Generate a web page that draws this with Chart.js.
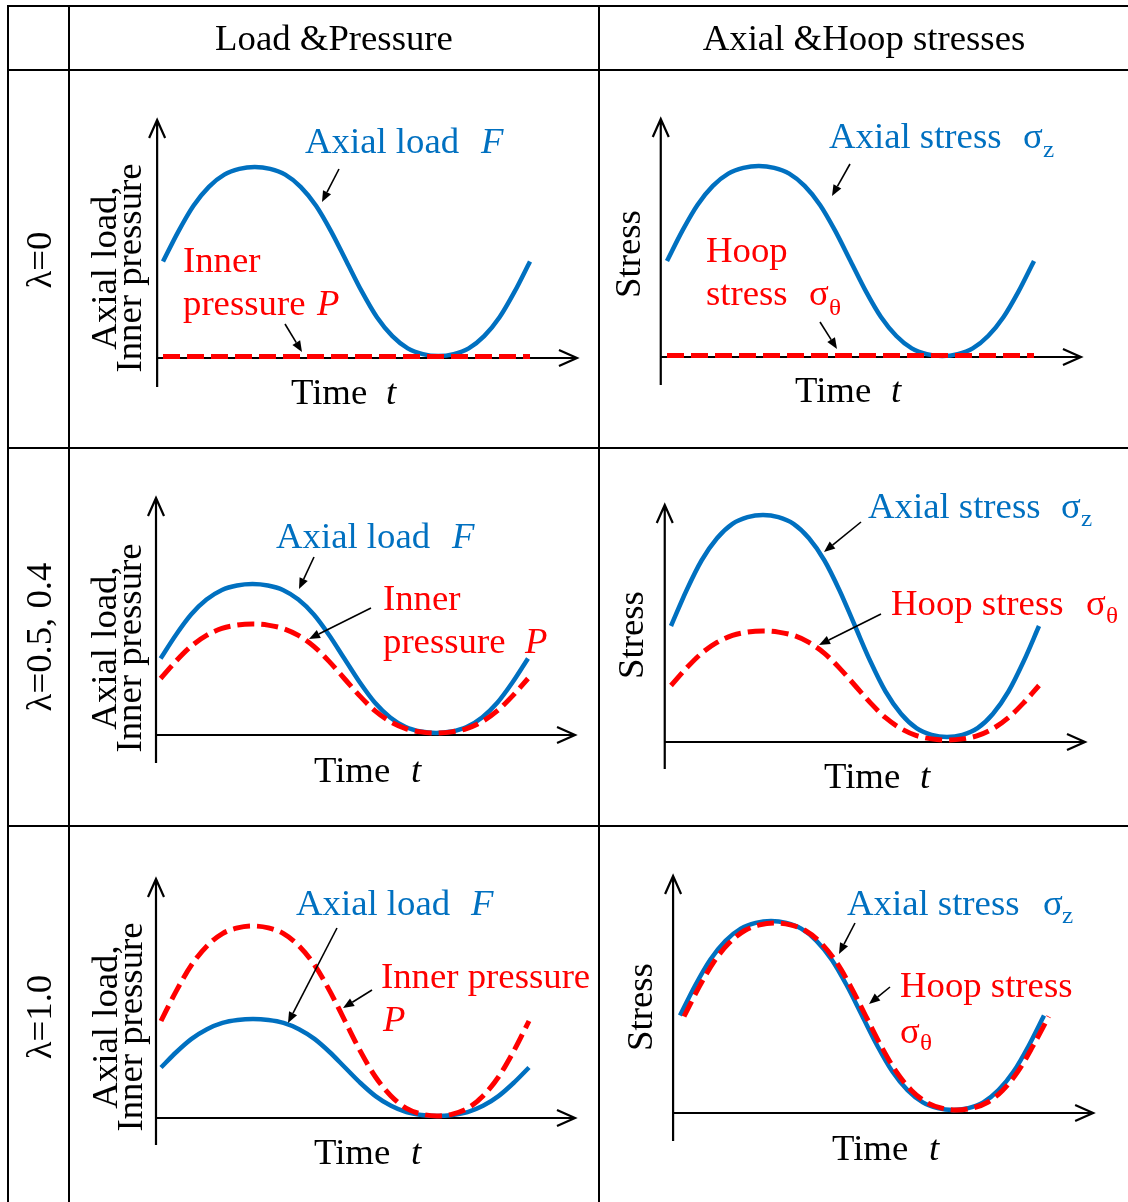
<!DOCTYPE html>
<html><head><meta charset="utf-8">
<script src="https://cdn.jsdelivr.net/npm/chart.js@4.4.1/dist/chart.umd.min.js"></script>
<style>html,body{margin:0;padding:0;background:#fff;overflow:hidden}canvas{display:block}</style>
</head><body>
<canvas id="c" width="1128" height="1202"></canvas>
<script>
// ---- data (one loading period; values = height above the time axis) ----
const time      = [0, 0.042, 0.083, 0.125, 0.167, 0.208, 0.25, 0.292, 0.333, 0.375, 0.417, 0.458, 0.5,
                   0.542, 0.583, 0.625, 0.667, 0.708, 0.75, 0.792, 0.833, 0.875, 0.917, 0.958, 1];
const hoopTime1 = [0.011, 0.053, 0.094, 0.136, 0.178, 0.219, 0.261, 0.303, 0.344, 0.386, 0.428, 0.469, 0.511,
                   0.553, 0.594, 0.636, 0.678, 0.719, 0.761, 0.803, 0.844, 0.886, 0.928, 0.969, 1.013];

// λ = 0
const load0         = [96.5, 126.7, 152.3, 171.2, 183.4, 189.1, 191, 189.1, 183.4, 171.2, 152.3, 126.7, 96.5,
                       66.3, 40.7, 21.8, 9.6, 3.9, 2, 3.9, 9.6, 21.8, 40.7, 66.3, 96.5];
const pressure0     = [1.5, 1.5, 1.5, 1.5, 1.5, 1.5, 1.5, 1.5, 1.5, 1.5, 1.5, 1.5, 1.5,
                       1.5, 1.5, 1.5, 1.5, 1.5, 1.5, 1.5, 1.5, 1.5, 1.5, 1.5, 1.5];
const axialStress0  = [96, 126.4, 152.1, 171.1, 183.4, 189.1, 191, 189.1, 183.4, 171.1, 152.1, 126.4, 96,
                       65.6, 40, 21, 8.6, 2.9, 1, 2.9, 8.6, 21, 40, 65.6, 96];
const hoopStress0   = [1.5, 1.5, 1.5, 1.5, 1.5, 1.5, 1.5, 1.5, 1.5, 1.5, 1.5, 1.5, 1.5,
                       1.5, 1.5, 1.5, 1.5, 1.5, 1.5, 1.5, 1.5, 1.5, 1.5, 1.5, 1.5];
// λ = 0.5, 0.4
const load05        = [76.5, 100.3, 120.5, 135.4, 145, 149.5, 151, 149.5, 145, 135.4, 120.5, 100.3, 76.5,
                       52.7, 32.5, 17.6, 8, 3.5, 2, 3.5, 8, 17.6, 32.5, 52.7, 76.5];
const pressure05    = [56.5, 73.9, 88.7, 99.6, 106.6, 109.9, 111, 109.9, 106.6, 99.6, 88.7, 73.9, 56.5,
                       39.1, 24.3, 13.4, 6.4, 3.1, 2, 3.1, 6.4, 13.4, 24.3, 39.1, 56.5];
const axialStress05 = [116, 151.5, 181.5, 203.7, 218.1, 224.8, 227, 224.8, 218.1, 203.7, 181.5, 151.5, 116,
                       80.5, 50.5, 28.3, 13.9, 7.2, 5, 7.2, 13.9, 28.3, 50.5, 80.5, 116];
const hoopStress05  = [56.5, 73.9, 88.7, 99.6, 106.6, 109.9, 111, 109.9, 106.6, 99.6, 88.7, 73.9, 56.5,
                       39.1, 24.3, 13.4, 6.4, 3.1, 2, 3.1, 6.4, 13.4, 24.3, 39.1, 56.5];
// λ = 1.0
const load1         = [50.5, 66, 79.1, 88.8, 95.1, 98, 99, 98, 95.1, 88.8, 79.1, 66, 50.5,
                       35, 21.9, 12.2, 5.9, 3, 2, 3, 5.9, 12.2, 21.9, 35, 50.5];
const pressure1     = [97, 127.4, 153.1, 172.1, 184.4, 190.1, 192, 190.1, 184.4, 172.1, 153.1, 127.4, 97,
                       66.6, 41, 22, 9.6, 3.9, 2, 3.9, 9.6, 22, 41, 66.6, 97];
const axialStress1  = [97.5, 127.7, 153.3, 172.2, 184.4, 190.1, 192, 190.1, 184.4, 172.2, 153.3, 127.7, 97.5,
                       67.3, 41.7, 22.8, 10.6, 4.9, 3, 4.9, 10.6, 22.8, 41.7, 67.3, 97.5];
const hoopStress1   = [96.5, 126.4, 151.7, 170.4, 182.5, 188.1, 190, 188.1, 182.5, 170.4, 151.7, 126.4, 96.5,
                       66.6, 41.3, 22.6, 10.5, 4.9, 3, 4.9, 10.5, 22.6, 41.3, 66.6, 96.5];

const columnHeaders = ['Load &Pressure', 'Axial &Hoop stresses'];
const rowHeaders = ['λ=0', 'λ=0.5, 0.4', 'λ=1.0'];

// ---- layout ----
const W = 1128, H = 1202;
const BLUE = '#0070C0', RED = '#FF0000';
const FONT = '"Liberation Serif", "Times New Roman", serif';
const FS = 35, SX = 1.05;

const panels = [
  {x0:163, x1:530, ay:358, tAxis:-0.016, tTip:1.128, top:238, bottom:-29},
  {x0:667, x1:1034, ay:357, tAxis:-0.017, tTip:1.128, top:238, bottom:-28},
  {x0:160.6, x1:528, ay:735, tAxis:-0.0125, tTip:1.128, top:237, bottom:-28},
  {x0:671, x1:1039, ay:742, tAxis:-0.017, tTip:1.125, top:237, bottom:-27},
  {x0:161, x1:529, ay:1118, tAxis:-0.0136, tTip:1.125, top:239, bottom:-27},
  {x0:680, x1:1044, ay:1113, tAxis:-0.019, tTip:1.135, top:237, bottom:-28}
];

const series = [
  {p:0, t:time, v:load0, c:BLUE}, {p:0, t:time, v:pressure0, c:RED, dash:true},
  {p:1, t:time, v:axialStress0, c:BLUE}, {p:1, t:time, v:hoopStress0, c:RED, dash:true},
  {p:2, t:time, v:load05, c:BLUE}, {p:2, t:time, v:pressure05, c:RED, dash:true},
  {p:3, t:time, v:axialStress05, c:BLUE}, {p:3, t:time, v:hoopStress05, c:RED, dash:true},
  {p:4, t:time, v:load1, c:BLUE}, {p:4, t:time, v:pressure1, c:RED, dash:true},
  {p:5, t:time, v:axialStress1, c:BLUE}, {p:5, t:hoopTime1, v:hoopStress1, c:RED, dash:true}
];

const scales = {};
panels.forEach((p, i) => {
  const w = p.x1 - p.x0;
  scales['x' + i] = {type:'linear', display:false, bounds:'data', min:-p.x0 / w, max:(W - p.x0) / w};
  scales['y' + i] = {type:'linear', display:false, bounds:'data', min:p.ay - H, max:p.ay};
});

const datasets = series.map(s => ({
  data: s.t.map((t, i) => ({x:t, y:s.v[i]})),
  xAxisID: 'x' + s.p, yAxisID: 'y' + s.p,
  borderColor: s.c, borderWidth: s.dash ? 5 : 4.5,
  borderDash: s.dash ? [17, 7] : [],
  borderCapStyle: 'butt',
  pointRadius: 0, fill: false, clip: false,
  cubicInterpolationMode: 'monotone',
  order: s.dash ? 0 : 1
}));

// text items: [x, y, text, style, color]  style: n normal, i italic, s subscript
const texts = [
  [305,153,'Axial load','n',BLUE],[481,153,'F','i',BLUE],
  [183,272,'Inner','n',RED],[183,315,'pressure','n',RED],[317,315,'P','i',RED],
  [291,404,'Time','n','#000'],[386,404,'t','i','#000'],

  [829,148,'Axial stress','n',BLUE],[1023,148,'σ','n',BLUE],[1043,157,'z','s',BLUE],
  [706,262,'Hoop','n',RED],[706,305,'stress','n',RED],[809,305,'σ','n',RED],[829,315,'θ','s',RED],
  [795,402,'Time','n','#000'],[891,402,'t','i','#000'],

  [276,548,'Axial load','n',BLUE],[452,548,'F','i',BLUE],
  [383,610,'Inner','n',RED],[383,653,'pressure','n',RED],[525,653,'P','i',RED],
  [314,782,'Time','n','#000'],[411,782,'t','i','#000'],

  [868,518,'Axial stress','n',BLUE],[1061,518,'σ','n',BLUE],[1081,526,'z','s',BLUE],
  [891,615,'Hoop stress','n',RED],[1086,615,'σ','n',RED],[1106,623,'θ','s',RED],
  [824,788,'Time','n','#000'],[920,788,'t','i','#000'],

  [296,915,'Axial load','n',BLUE],[471,915,'F','i',BLUE],
  [381,988,'Inner pressure','n',RED],[383,1031,'P','i',RED],
  [314,1164,'Time','n','#000'],[411,1164,'t','i','#000'],

  [847,915,'Axial stress','n',BLUE],[1043,915,'σ','n',BLUE],[1062,923,'z','s',BLUE],
  [900,997,'Hoop stress','n',RED],[900,1043,'σ','n',RED],[920,1050,'θ','s',RED],
  [832,1160,'Time','n','#000'],[929,1160,'t','i','#000']
];
// rotated (reading upward): [baselineX, centerY, text]
const vtexts = [
  [51,260,rowHeaders[0]],[51,637,rowHeaders[1]],[51,1017,rowHeaders[2]],
  [116,268,'Axial load,'],[141,268,'Inner pressure'],
  [116,648,'Axial load,'],[141,648,'Inner pressure'],
  [117,1027,'Axial load,'],[142,1027,'Inner pressure'],
  [640,254,'Stress'],[643,635,'Stress'],[652,1007,'Stress']
];
// annotation arrows: [fromX, fromY, toX, toY]
const arrows = [
  [339,169,322,202],[285,324,302,352],
  [850,164,832,196],[820,322,837,349],
  [314,557,299,589],[371,608,309,639],
  [861,522,824,552],[881,614,819,645],
  [337,928,288,1023],[372,990,343,1008],
  [855,923,839,954],[890,987,869,1004]
];

function drawText(ctx, x, y, txt, style, color, rot, align) {
  ctx.save();
  ctx.translate(x, y);
  if (rot) ctx.rotate(-Math.PI / 2);
  ctx.scale(SX, 1);
  ctx.fillStyle = color;
  ctx.textBaseline = 'alphabetic';
  ctx.textAlign = align || 'left';
  const size = style === 's' ? 24 : FS;
  ctx.font = (style === 'i' ? 'italic ' : '') + size + 'px ' + FONT;
  ctx.fillText(txt, 0, 0);
  ctx.restore();
}

const deco = {
  id: 'deco',
  beforeDatasetsDraw(chart) {
    const ctx = chart.ctx;
    ctx.save();
    ctx.strokeStyle = '#000';
    ctx.lineWidth = 2;
    ctx.lineCap = 'butt';
    ctx.beginPath();
    [8, 69, 599].forEach(x => { ctx.moveTo(x, 5); ctx.lineTo(x, H); });
    [6, 70, 448, 826].forEach(y => { ctx.moveTo(7, y); ctx.lineTo(W, y); });
    ctx.stroke();
    panels.forEach((p, i) => {
      const xs = chart.scales['x' + i], ys = chart.scales['y' + i];
      const ax = xs.getPixelForValue(p.tAxis), ay = ys.getPixelForValue(0);
      const top = ys.getPixelForValue(p.top), bot = ys.getPixelForValue(p.bottom);
      const tip = xs.getPixelForValue(p.tTip);
      ctx.lineWidth = 2.2;
      ctx.beginPath();
      ctx.moveTo(ax, bot); ctx.lineTo(ax, top);
      ctx.moveTo(ax - 8, top + 18); ctx.lineTo(ax, top); ctx.lineTo(ax + 8, top + 18);
      ctx.moveTo(ax, ay); ctx.lineTo(tip, ay);
      ctx.moveTo(tip - 18, ay - 8); ctx.lineTo(tip, ay); ctx.lineTo(tip - 18, ay + 8);
      ctx.stroke();
    });
    ctx.restore();
  },
  afterDatasetsDraw(chart) {
    const ctx = chart.ctx;
    ctx.save();
    drawText(ctx, 334, 50, columnHeaders[0], 'n', '#000', false, 'center');
    drawText(ctx, 864, 50, columnHeaders[1], 'n', '#000', false, 'center');
    texts.forEach(t => drawText(ctx, t[0], t[1], t[2], t[3], t[4], false, 'left'));
    vtexts.forEach(t => drawText(ctx, t[0], t[1], t[2], 'n', '#000', true, 'center'));
    ctx.strokeStyle = '#000'; ctx.fillStyle = '#000'; ctx.lineWidth = 1.6;
    arrows.forEach(a => {
      const [x1, y1, x2, y2] = a;
      const ang = Math.atan2(y2 - y1, x2 - x1), L = 11, hw = 4.5;
      const bx = x2 - L * Math.cos(ang), by = y2 - L * Math.sin(ang);
      ctx.beginPath(); ctx.moveTo(x1, y1); ctx.lineTo(bx, by); ctx.stroke();
      ctx.beginPath();
      ctx.moveTo(x2, y2);
      ctx.lineTo(bx + hw * Math.sin(ang), by - hw * Math.cos(ang));
      ctx.lineTo(bx - hw * Math.sin(ang), by + hw * Math.cos(ang));
      ctx.closePath(); ctx.fill();
    });
    ctx.restore();
  }
};

new Chart(document.getElementById('c'), {
  type: 'line',
  data: { datasets },
  options: {
    responsive: false, animation: false, events: [],
    layout: { padding: 0 },
    scales,
    plugins: { legend: { display: false }, tooltip: { enabled: false } }
  },
  plugins: [deco]
});
</script>
</body></html>
